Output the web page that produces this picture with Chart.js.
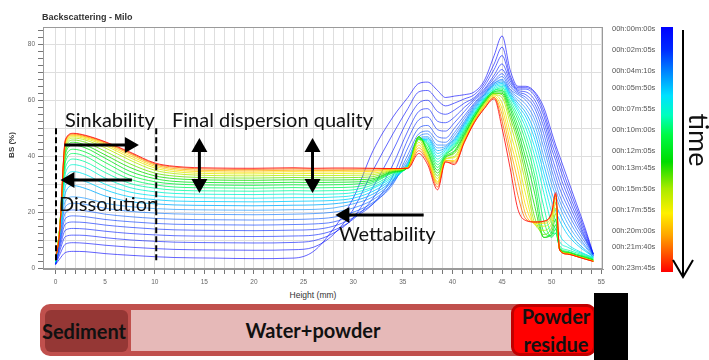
<!DOCTYPE html>
<html>
<head>
<meta charset="utf-8">
<script src="https://cdn.jsdelivr.net/npm/chart.js@4.4.1/dist/chart.umd.min.js"></script>
<style>
  html, body { margin: 0; padding: 0; background: #fff; }
  #page { position: relative; width: 709px; height: 360px; overflow: hidden; font-family: 'Liberation Sans', Arial, sans-serif; }
  #chart { position: absolute; left: 0; top: 0; }
  .abs { position: absolute; white-space: nowrap; }
  .ctr { transform: translateX(-50%); }
  .note { font-family: Lato, 'Open Sans', sans-serif; font-size: 20px; line-height: 20px; color: #111; }
  .band { font-family: Lato, 'Open Sans', sans-serif; font-weight: bold; font-size: 20px; line-height: 20px; color: #111; }
  .cb-label { font-size: 7.5px; line-height: 8px; color: #555; left: 612px; }
</style>
</head>
<body>
<div id="page">
  <canvas id="chart" width="709" height="290"></canvas>

  <div class="abs" style="left:42px; top:13px; font-size:9px; line-height:9px; font-weight:bold; color:#333;">Backscattering - Milo</div>
  <div class="abs" style="left:11px; top:145px; font-size:8px; font-weight:bold; color:#333; transform:translate(-50%,-50%) rotate(-90deg);">BS (%)</div>
  <div class="abs ctr" style="left:313px; top:291px; font-size:8.5px; line-height:9px; color:#333;">Height (mm)</div>

  <div class="abs note" style="left:65px; top:109px;">Sinkability</div>
  <div class="abs note" style="left:172px; top:109px;">Final dispersion quality</div>
  <div class="abs note" style="left:59px; top:193px;">Dissolution</div>
  <div class="abs note" style="left:339px; top:223px;">Wettability</div>

  <div id="colorbar" class="abs" style="left:661px; top:27px; width:12px; height:245px;"></div>
  <div id="cbLabels"></div>
  <svg class="abs" style="left:660px; top:0px;" width="49" height="290">
    <line x1="23" y1="30" x2="23" y2="276" stroke="#000" stroke-width="2"/>
    <polyline points="13,260 23,277 33,260" fill="none" stroke="#000" stroke-width="2"/>
  </svg>
  <div class="abs" style="left:699px; top:140px; font-family:Lato, sans-serif; font-size:27px; line-height:27px; color:#111; transform:translate(-50%,-50%) rotate(90deg);">time</div>

  <div class="abs" style="left:40px; top:304px; width:556px; height:52px; background:#c0504d; border-radius:10px;"></div>
  <div class="abs" style="left:131px; top:310px; width:381px; height:41px; background:#e6b9b8;"></div>
  <div class="abs" style="left:45px; top:310px; width:83px; height:42px; background:#953735; border-radius:6px;"></div>
  <div class="abs" style="left:511px; top:304px; width:85px; height:52px; background:#ff0000; border:3px solid #c00000; border-radius:9px; box-sizing:border-box;"></div>
  <div class="abs" style="left:594px; top:293px; width:34px; height:67px; background:#000;"></div>

  <div class="abs band ctr" style="left:84px; top:321px;">Sediment</div>
  <div class="abs band ctr" style="left:313px; top:320px;">Water+powder</div>
  <div class="abs band ctr" style="left:556px; top:306px;">Powder</div>
  <div class="abs band ctr" style="left:556px; top:334px;">residue</div>
</div>

<script>
// heights where the profiles are read (mm)
const heightMm = [0, 0.4, 1, 1.8, 3, 5, 7.5, 10, 12, 16,
	20, 24, 26, 28, 30, 32, 34, 35.5, 36.6, 37.5,
	38.5, 39.3, 40.2, 41.2, 42.2, 43.2, 44.2, 45, 45.8, 46.6,
	47.4, 48.3, 49.2, 50, 50.4, 50.8, 51.6, 52.5, 53.4, 54.2];

// scan times (s), one per profile
const scanSeconds = [0, 30, 60, 90, 120, 150, 190, 230, 270, 320, 370, 420, 480,
	540, 600, 660, 730, 800, 880, 960, 1040, 1120, 1200, 1290, 1425];

// backscattering profiles BS (%)
const bsScan01 = [1.2, 3.2, 5.6, 6.0, 5.9, 5.2, 4.6, 4.1, 3.8, 3.6,
	3.4, 3.6, 6, 14, 25, 42, 54, 61, 66, 66.5,
	63.5, 61, 61.5, 62, 63, 67, 76, 83, 71, 65,
	65, 63, 57.5, 48.5, 44, 40, 32, 23, 14, 5];
const bsScan02 = [1.3, 4.6, 8.6, 9.1, 8.9, 8.2, 7.5, 7.0, 6.7, 6.5,
	6.4, 6.6, 7.5, 12, 21, 35, 48, 57, 63, 63.5,
	60, 58, 59, 60.5, 62, 66, 73, 79, 69, 64.5,
	64.5, 62.5, 56, 46.5, 42.5, 38, 30, 21.5, 13, 5];
const bsScan03 = [1.4, 5.8, 11.3, 11.8, 11.7, 10.9, 10.1, 9.6, 9.3, 9.1,
	9.0, 9.2, 9.8, 12.5, 18, 29, 42, 53, 59, 60,
	56, 55, 56.5, 59, 61, 65, 71, 76, 68, 64,
	64, 61.5, 54.5, 44.5, 40.5, 36, 28, 20, 12, 5];
const bsScan04 = [1.5, 6.8, 13.6, 14.2, 14.0, 13.2, 12.4, 11.9, 11.6, 11.4,
	11.3, 11.5, 11.8, 13.5, 17.5, 25, 37, 49, 56, 57,
	52.5, 52, 54, 57.5, 60.5, 64, 69, 73, 67, 63.5,
	63, 60, 52.5, 42.5, 38.5, 33.5, 26, 18.5, 11, 5];
const bsScan05 = [1.6, 7.8, 15.8, 16.5, 16.3, 15.4, 14.6, 14.0, 13.7, 13.5,
	13.4, 13.6, 13.8, 15, 18, 23, 33, 46, 53, 54,
	49.5, 49, 52, 56, 60, 63.5, 68, 71, 66, 63,
	62, 58.5, 50.5, 40, 35.5, 31, 24, 17, 10.5, 5];
const bsScan06 = [1.7, 8.6, 17.8, 18.7, 18.4, 17.4, 16.6, 16.0, 15.7, 15.5,
	15.4, 15.6, 15.8, 16.5, 19, 23, 31, 43, 50, 51,
	47, 46.5, 50, 54.5, 59, 63, 67, 69.5, 65, 62.5,
	61, 57, 48, 37.5, 33, 28.5, 22, 15.5, 10, 4.5];
const bsScan07 = [1.8, 9.4, 19.8, 20.8, 20.5, 19.3, 18.4, 17.8, 17.5, 17.3,
	17.2, 17.4, 17.6, 18.2, 20, 23.5, 30, 40.5, 48, 49,
	45.5, 45, 48.5, 53.5, 58.5, 62.5, 66.5, 68.5, 64, 62,
	60, 55, 45.5, 35, 30.5, 26, 20, 14, 9, 4.5];
const bsScan08 = [1.9, 10.2, 22.0, 23.2, 22.8, 21.4, 20.3, 19.7, 19.4, 19.2,
	19.1, 19.3, 19.5, 20, 21.5, 24.5, 30.5, 39, 47, 48,
	44, 44, 47.5, 52.5, 58, 62, 66, 67.5, 63.5, 61,
	58.5, 53, 43, 32.5, 28, 24, 18, 12.5, 8, 4.5];
const bsScan09 = [2.0, 10.8, 24.0, 25.5, 25.0, 23.2, 22.0, 21.3, 21.0, 20.8,
	20.7, 20.9, 21, 21.5, 23, 25.5, 31, 38, 46.5, 47,
	43, 43.5, 46.5, 52, 57.5, 62, 66, 67, 63, 60,
	57, 51, 40, 30, 26, 22, 16, 11, 7.5, 4];
const bsScan10 = [2.1, 11.4, 27.0, 29.5, 28.5, 25.8, 23.8, 23.0, 22.6, 22.4,
	22.3, 22.5, 22.6, 23, 24, 26.5, 31.5, 37.5, 46, 46.5,
	42, 43, 46, 51.5, 57, 61.5, 65.5, 66.5, 62.5, 59,
	55.5, 48.5, 37, 27, 23, 19.5, 14, 9.5, 6.5, 4];
const bsScan11 = [2.2, 11.8, 29.5, 32.0, 31.0, 28.0, 25.5, 24.5, 24.0, 23.8,
	23.7, 23.9, 24, 24.2, 25, 27.5, 32, 37, 46, 46,
	41, 42.5, 45.5, 51, 56.5, 61, 65, 66, 62, 58,
	54, 46, 34, 24, 20.5, 17, 12, 8.5, 6, 4];
const bsScan12 = [2.3, 12.2, 32.0, 34.5, 33.5, 30.0, 27.2, 25.9, 25.4, 25.1,
	25.0, 25.2, 25.2, 25.4, 26, 28.5, 32.5, 37, 46, 45.5,
	40, 42, 45, 50.5, 56, 60.5, 64.5, 65.5, 61.5, 57,
	52, 43, 31, 20, 17, 12, 8.5, 6.5, 5, 3.8];
const bsScan13 = [2.4, 12.5, 34.0, 37.0, 36.0, 32.2, 28.8, 27.3, 26.7, 26.4,
	26.3, 26.5, 26.4, 26.5, 27, 29, 33, 36.5, 46, 45,
	39, 41.5, 44.5, 50, 55.5, 60.5, 64, 65, 61, 56,
	50, 40, 27, 16, 14, 9.5, 7.5, 6, 4.8, 3.6];
const bsScan14 = [2.5, 12.8, 36.0, 39.0, 38.0, 34.2, 30.3, 28.6, 27.9, 27.6,
	27.5, 27.7, 27.6, 27.7, 28, 29.8, 33.5, 36.5, 46, 44.5,
	38, 41, 44, 49.5, 55, 60, 63.5, 64.5, 60, 54.5,
	47.5, 36.5, 22, 12.5, 12.5, 8, 6.5, 5.5, 4.5, 3.4];
const bsScan15 = [2.6, 13.0, 38.0, 41.0, 40.0, 36.0, 31.8, 29.8, 29.0, 28.7,
	28.6, 28.8, 28.7, 28.8, 29, 30.5, 34, 36, 46, 44,
	37, 40.5, 43.5, 49, 55, 60, 63.5, 64, 59, 53,
	45, 33, 17, 11, 12.5, 7.5, 6, 5, 4.2, 3.2];
const bsScan16 = [2.7, 13.2, 39.5, 42.5, 41.5, 37.8, 33.2, 30.9, 30.1, 29.7,
	29.6, 29.8, 29.7, 29.8, 30, 31, 34.2, 36, 46.5, 43,
	36, 40.5, 43, 48.5, 54.5, 59.5, 63, 63.5, 58, 51,
	42, 30, 13, 11.5, 14, 7, 5.8, 4.8, 4, 3];
const bsScan17 = [2.8, 13.4, 41.0, 44.0, 43.0, 39.3, 34.6, 32.0, 31.0, 30.6,
	30.5, 30.7, 30.6, 30.7, 30.8, 31.5, 34.4, 36, 47, 42,
	35, 40, 42, 48, 54, 59.5, 63, 63, 57, 49,
	39, 26.5, 11, 12, 15.5, 7, 5.6, 4.6, 3.8, 2.9];
const bsScan18 = [2.9, 13.5, 42.0, 45.0, 44.0, 40.5, 36.0, 33.0, 32.0, 31.5,
	31.4, 31.6, 31.5, 31.5, 31.6, 32, 34.6, 36, 47, 41.5,
	34, 39.5, 41.5, 47.5, 54, 59, 62.5, 62.5, 55.5, 47,
	36, 22, 11, 13, 17.5, 6.8, 5.5, 4.5, 3.6, 2.8];
const bsScan19 = [3.0, 13.6, 43.0, 45.8, 45.0, 41.8, 37.3, 34.0, 32.9, 32.3,
	32.2, 32.4, 32.3, 32.3, 32.4, 32.7, 34.8, 36, 47, 41,
	33, 39.5, 41, 47, 53.5, 59, 62.5, 62, 54, 45,
	33, 18, 12, 14.5, 19.5, 6.8, 5.4, 4.4, 3.5, 2.7];
const bsScan20 = [3.0, 13.6, 43.8, 46.5, 45.8, 43.0, 38.6, 35.0, 33.8, 33.1,
	33.0, 33.2, 33.1, 33.1, 33.2, 33.4, 35, 36, 46, 40,
	32, 39, 40, 46.5, 53, 58.5, 62, 61, 52, 42,
	30, 16, 13.5, 16, 21.5, 6.6, 5.3, 4.3, 3.4, 2.6];
const bsScan21 = [3.0, 13.5, 44.5, 47.0, 46.3, 43.8, 39.5, 35.8, 34.5, 33.8,
	33.7, 33.9, 33.8, 33.8, 33.9, 34, 35.2, 36, 45, 39.5,
	31, 39, 39.5, 46, 53, 58, 62, 59, 49, 38.5,
	26, 15.5, 15, 17.5, 23.5, 6.6, 5.2, 4.3, 3.4, 2.5];
const bsScan22 = [3.0, 13.2, 45.0, 47.4, 46.7, 44.3, 40.2, 36.4, 35.1, 34.4,
	34.3, 34.5, 34.4, 34.4, 34.5, 34.6, 35.4, 36, 44, 39,
	30.5, 38.5, 38.5, 46, 52.5, 58, 61.5, 57, 46, 35,
	22, 16, 16, 18.5, 25, 6.5, 5.1, 4.2, 3.3, 2.5];
const bsScan23 = [3.0, 12.8, 45.4, 47.7, 47.0, 44.7, 40.8, 36.9, 35.6, 34.9,
	34.8, 35.0, 34.9, 34.9, 35, 35, 35.5, 36, 43, 38.5,
	30, 38.5, 38, 45.5, 52.5, 57.5, 61, 55, 43, 31,
	19, 16.5, 16.5, 19.5, 26, 6.5, 5.1, 4.2, 3.3, 2.5];
const bsScan24 = [3.0, 12.4, 45.7, 48.0, 47.3, 45.0, 41.2, 37.3, 36.1, 35.4,
	35.3, 35.5, 35.4, 35.4, 35.4, 35.5, 35.6, 35.8, 42, 38,
	29, 38, 37.5, 45, 52, 57, 61, 52.5, 40, 26,
	17.5, 16.5, 16.8, 19.5, 26.5, 6.5, 5, 4.2, 3.2, 2.4];
const bsScan25 = [3.0, 12.0, 46.0, 48.2, 47.5, 45.2, 41.5, 37.6, 36.4, 35.8,
	35.7, 35.9, 35.7, 35.8, 35.8, 35.7, 35.6, 35.6, 41, 37,
	28, 38, 37, 45, 52, 57, 60.5, 50, 36, 21,
	17, 16.5, 16.8, 20, 27, 6.5, 5, 4.2, 3.2, 2.4];

const bsScans = [bsScan01, bsScan02, bsScan03, bsScan04, bsScan05, bsScan06, bsScan07,
	bsScan08, bsScan09, bsScan10, bsScan11, bsScan12, bsScan13, bsScan14, bsScan15,
	bsScan16, bsScan17, bsScan18, bsScan19, bsScan20, bsScan21, bsScan22, bsScan23,
	bsScan24, bsScan25];

const heightTickLabels = [0, 5, 10, 15, 20, 25, 30, 35, 40, 45, 50, 55];
const bsTickLabels = [0, 20, 40, 60, 80];

const colorbarSeconds = [0, 125, 250, 350, 475, 600, 725, 825, 950, 1075, 1200, 1300, 1425];
const colorbarLabels = ['00h:00m:00s', '00h:02m:05s', '00h:04m:10s', '00h:05m:50s', '00h:07m:55s',
	'00h:10m:00s', '00h:12m:05s', '00h:13m:45s', '00h:15m:50s', '00h:17m:55s',
	'00h:20m:00s', '00h:21m:40s', '00h:23m:45s'];

// colour scale used by the instrument (blue -> red)
const colorStops = [
	[0, [0, 0, 255]], [0.09, [0, 40, 255]], [0.18, [0, 130, 255]], [0.28, [0, 225, 255]],
	[0.36, [0, 255, 190]], [0.44, [0, 250, 70]], [0.55, [0, 220, 0]], [0.66, [170, 235, 0]],
	[0.76, [255, 240, 0]], [0.85, [255, 165, 0]], [0.92, [255, 90, 0]], [1, [255, 0, 0]],
];

const colorAt = (f, alpha) => {
	for (let i = 1; i < colorStops.length; i++) {
		const [p1, c1] = colorStops[i];
		const [p0, c0] = colorStops[i - 1];
		if (f <= p1) {
			const k = (f - p0) / (p1 - p0);
			const c = c0.map((v, j) => Math.round(v + (c1[j] - v) * k));
			return `rgba(${c.join(',')},${alpha})`;
		}
	}
	return `rgba(255,0,0,${alpha})`;
};

const totalSeconds = scanSeconds[scanSeconds.length - 1];

// colour bar + labels
document.getElementById('colorbar').style.background = 'linear-gradient(to bottom, ' +
	colorStops.map(([p, c]) => `rgb(${c.join(',')}) ${(p * 100).toFixed(1)}%`).join(', ') + ')';

document.getElementById('cbLabels').innerHTML = colorbarSeconds.map((s, i) => {
	const top = 29.3 + (s / totalSeconds) * 239 - 4;
	return `<div class="abs cb-label" style="top:${top.toFixed(1)}px;">${colorbarLabels[i]}</div>`;
}).join('');

const drawArrowHead = (ctx, tipX, tipY, dirX, dirY, len, half) => {
	const bx = tipX - dirX * len;
	const by = tipY - dirY * len;
	ctx.beginPath();
	ctx.moveTo(tipX, tipY);
	ctx.lineTo(bx - dirY * half, by + dirX * half);
	ctx.lineTo(bx + dirY * half, by - dirX * half);
	ctx.closePath();
	ctx.fill();
};

const drawArrow = (ctx, x1, y1, x2, y2, both) => {
	const d = Math.hypot(x2 - x1, y2 - y1);
	const ux = (x2 - x1) / d;
	const uy = (y2 - y1) / d;
	const len = 14;
	ctx.lineWidth = 3;
	ctx.beginPath();
	ctx.moveTo(both ? x1 + ux * len * 0.8 : x1, both ? y1 + uy * len * 0.8 : y1);
	ctx.lineTo(x2 - ux * len * 0.8, y2 - uy * len * 0.8);
	ctx.stroke();
	drawArrowHead(ctx, x2, y2, ux, uy, len, 8);
	if (both) {
		drawArrowHead(ctx, x1, y1, -ux, -uy, len, 8);
	}
};

const annotationPlugin = {
	id: 'annotations',
	afterDatasetsDraw(chart) {
		const { ctx, chartArea: area, scales: { x, y } } = chart;
		ctx.save();
		ctx.strokeStyle = '#9a9a9a';
		ctx.lineWidth = 1;
		ctx.strokeRect(area.left + 0.5, area.top + 0.5, area.right - area.left - 1, area.bottom - area.top - 1);

		ctx.strokeStyle = '#000';
		ctx.fillStyle = '#000';
		ctx.lineWidth = 2;
		ctx.setLineDash([6, 3]);
		[[0.05, 50, 2.2], [10.15, 50, 2.5]].forEach(([mm, top, bottom]) => {
			ctx.beginPath();
			ctx.moveTo(x.getPixelForValue(mm), y.getPixelForValue(top));
			ctx.lineTo(x.getPixelForValue(mm), y.getPixelForValue(bottom));
			ctx.stroke();
		});
		ctx.setLineDash([]);

		// sinkability, dissolution, wettability
		drawArrow(ctx, x.getPixelForValue(0.9), y.getPixelForValue(44), x.getPixelForValue(8.4), y.getPixelForValue(44), false);
		drawArrow(ctx, x.getPixelForValue(7.7), y.getPixelForValue(31.5), x.getPixelForValue(0.5), y.getPixelForValue(31.5), false);
		drawArrow(ctx, x.getPixelForValue(37.1), y.getPixelForValue(19), x.getPixelForValue(28.2), y.getPixelForValue(19), false);
		// final dispersion quality
		[14.5, 25.9].forEach((mm) => {
			drawArrow(ctx, x.getPixelForValue(mm), y.getPixelForValue(46.5), x.getPixelForValue(mm), y.getPixelForValue(26.9), true);
		});
		ctx.restore();
	}
};

Chart.defaults.font.family = "'Liberation Sans', Arial, sans-serif";

const datasets = bsScans.map((values, i) => ({
	data: values.map((v, j) => ({ x: heightMm[j], y: v })),
	borderColor: colorAt(scanSeconds[i] / totalSeconds, i < 9 ? 0.62 : 0.8),
	borderWidth: 1,
	pointRadius: 0,
	cubicInterpolationMode: 'monotone',
	order: bsScans.length - i,
}));

new Chart(document.getElementById('chart'), {
	type: 'line',
	data: { datasets },
	options: {
		responsive: false,
		animation: false,
		devicePixelRatio: 1,
		events: [],
		layout: { padding: { left: 0, right: 106, top: 27, bottom: 0 } },
		plugins: { legend: { display: false }, tooltip: { enabled: false } },
		scales: {
			x: {
				type: 'linear',
				min: -1.26,
				max: 55.17,
				afterBuildTicks(scale) {
					const ticks = [];
					for (let v = 0; v <= 55; v++) ticks.push({ value: v });
					scale.ticks = ticks;
				},
				afterFit(scale) { scale.height = 21; },
				grid: { color: '#dedede', tickColor: '#777', tickLength: 5 },
				border: { color: '#9a9a9a' },
				ticks: {
					autoSkip: false,
					maxRotation: 0,
					padding: 4,
					color: '#666',
					font: { size: 6.5 },
					callback: (v) => (heightTickLabels.includes(v) ? String(v) : ''),
				},
			},
			y: {
				min: -0.3,
				max: 86.2,
				afterBuildTicks(scale) {
					const ticks = [];
					for (let v = 0; v <= 85; v += 2.5) ticks.push({ value: v });
					scale.ticks = ticks;
				},
				afterFit(scale) { scale.width = 43; },
				grid: {
					color: (c) => (c.tick && c.tick.value % 10 === 0 ? '#dedede' : 'rgba(0,0,0,0)'),
					tickColor: '#777',
					tickLength: 5,
				},
				border: { color: '#9a9a9a' },
				ticks: {
					autoSkip: false,
					padding: 3,
					color: '#666',
					font: { size: 6.5 },
					callback: (v) => (bsTickLabels.includes(v) ? String(v) : ''),
				},
			},
		},
	},
	plugins: [annotationPlugin],
});
</script>
</body>
</html>
